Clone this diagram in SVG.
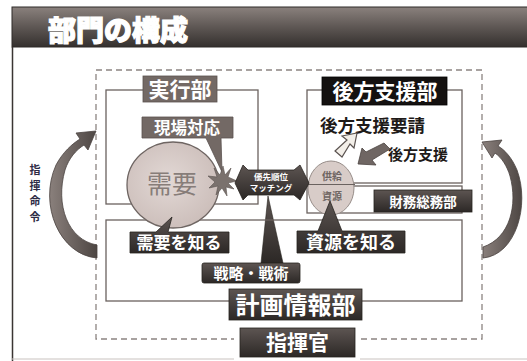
<svg xmlns="http://www.w3.org/2000/svg" width="527" height="361" viewBox="0 0 527 361">
<defs>
<linearGradient id="gTitle" x1="0" y1="0" x2="0" y2="1">
<stop offset="0" stop-color="#8a817d"/><stop offset="0.5" stop-color="#5e5754"/><stop offset="1" stop-color="#34302e"/>
</linearGradient>
<linearGradient id="gDark" x1="0" y1="0" x2="0" y2="1">
<stop offset="0" stop-color="#5d5552"/><stop offset="1" stop-color="#2c2826"/>
</linearGradient>
<linearGradient id="gArrow" x1="0" y1="0" x2="1" y2="0">
<stop offset="0" stop-color="#8a807c"/><stop offset="1" stop-color="#4d4643"/>
</linearGradient>
<radialGradient id="gCircle" cx="0.45" cy="0.45" r="0.6">
<stop offset="0" stop-color="#e2d8d5"/><stop offset="1" stop-color="#cbbdb9"/>
</radialGradient>
<style>
.frame{fill:none;stroke:#6a625f;stroke-width:1.3}
.dash{fill:none;stroke:#8c8481;stroke-width:1.3;stroke-dasharray:6,4}
.dark{fill:url(#gDark);stroke:#27231f;stroke-width:0.8}
.mid{fill:#736965;stroke:#5a524f;stroke-width:0.8}
.wt{fill:#ffffff;font-family:"Noto Sans CJK JP","Noto Sans CJK SC",sans-serif;font-weight:bold;text-anchor:middle}
.bt{fill:#1e1a18;font-family:"Noto Sans CJK JP","Noto Sans CJK SC",sans-serif;font-weight:bold}
.vt{fill:#2e2b45;font-family:"Noto Sans CJK JP",sans-serif;font-weight:bold;text-anchor:middle;font-size:11px}
.curve{fill:url(#gArrow);stroke:#4a4340;stroke-width:0.8}
</style>
</defs>
<rect width="527" height="361" fill="#ffffff"/>
<g id="title">
<rect x="12" y="7" width="520" height="40" fill="url(#gTitle)" stroke="#2f2b29" stroke-width="1"/>
<text x="48" y="41" font-size="28" fill="#ffffff" stroke="#ffffff" stroke-width="1.2" font-family="'Noto Sans CJK JP','Noto Sans CJK SC',sans-serif" font-weight="900">部門の構成</text>
</g>
<line x1="12.5" y1="47" x2="12.5" y2="361" stroke="#3a3533" stroke-width="1.5"/>
<line x1="12" y1="359" x2="527" y2="359" stroke="#c9c2bf" stroke-width="1"/>
<g id="dashed-area">
<rect class="dash" x="96" y="70" width="386" height="269"/>
</g>
<g id="connectors">
<path class="curve" d="M97,258 C60,255 38,205 56,165 C63,152 72,144 80,139 L76,133 L96,131 L88,150 L84,145 C76,150 69,158 65,170 C55,205 68,240 97,245 Z"/>
<path class="curve" d="M483,258 C516,255 530,205 517,170 C512,158 505,150 498,146 L502,140 L482,142 L492,158 L495,153 C502,158 507,166 510,176 C518,205 510,238 483,247 Z"/>
<path d="M268,196 L261,263 L283,263 Z" fill="url(#gDark)" stroke="#27231f" stroke-width="0.6"/>
</g>
<g id="jikko">
<rect class="frame" x="106" y="90" width="152" height="114"/>
<rect class="mid" x="143" y="76" width="74" height="26"/>
<text class="wt" x="180" y="97" font-size="21">実行部</text>
</g>
<g id="keikaku">
<rect class="frame" x="106" y="220" width="356" height="81"/>
</g>
<g id="zaimu">
<rect class="frame" x="307" y="186" width="155" height="27"/>
<rect class="dark" x="374" y="190" width="98" height="22"/>
<text class="wt" x="423" y="207" font-size="13.5">財務総務部</text>
</g>
<g id="juyo">
<ellipse cx="173" cy="185" rx="46" ry="43" fill="url(#gCircle)" stroke="#6e6562" stroke-width="1.3"/>
<text x="172" y="193" font-size="25" fill="#877d79" text-anchor="middle" font-family="'Noto Sans CJK JP','Noto Sans CJK SC',sans-serif">需要</text>
</g>
<g id="koho">
<rect class="frame" x="307" y="90" width="155" height="93"/>
<rect x="322" y="77" width="125" height="28" fill="#141110" stroke="#000" stroke-width="0.8"/>
<text class="wt" x="385" y="99" font-size="21">後方支援部</text>
<text class="bt" x="320" y="132" font-size="17.5">後方支援要請</text>
<text class="bt" x="388" y="160" font-size="15">後方支援</text>
<path d="M342,157 L335,151 L347,140 L342,136 L357,133 L354,148 L350,144 Z" fill="#f3efe9" stroke="#5a524f" stroke-width="1.2"/>
<path d="M384,143 L390,149 L372,160 L376,165 L358,164 L362,148 L366,152 Z" fill="#6f6663" stroke="#4a4340" stroke-width="0.8"/>
</g>
<g id="kyokyu">
<ellipse cx="331" cy="188" rx="23" ry="27" fill="#d8ccc8" stroke="#978d89" stroke-width="1"/>
<line x1="307" y1="184.5" x2="355" y2="184.5" stroke="#6a625f" stroke-width="1"/>
<text x="332" y="180" font-size="10" fill="#6e6562" text-anchor="middle" font-family="'Noto Sans CJK JP',sans-serif" font-weight="bold">供給</text>
<text x="332" y="200" font-size="10" fill="#6e6562" text-anchor="middle" font-family="'Noto Sans CJK JP',sans-serif" font-weight="bold">資源</text>
</g>
<g id="genba">
<path class="mid" d="M142,117 H233 V138 H221 L222,172 L206,138 H142 Z"/>
<text class="wt" x="187" y="134" font-size="16.5">現場対応</text>
</g>
<g id="burst">
<polygon points="237,181 228,183 234,189 226,187 227,196 222,188 216,195 218,186 209,188 215,182 208,176 217,177 214,168 220,175 223,166 225,175 231,168 228,177" fill="#7a716d" stroke="#5a524f" stroke-width="0.6"/>
</g>
<g id="matching">
<polygon points="235,183 243,165 248,170 294,170 300,165 309,183 300,200 294,195 248,195 243,200" class="dark"/>
<text class="wt" x="271" y="180" font-size="8.5">優先順位</text>
<text class="wt" x="271" y="191" font-size="8.5">マッチング</text>
</g>
<g id="juyo-shiru">
<path class="dark" d="M130,232 H156 L172,217 L168,232 H229 V253 H130 Z"/>
<text class="wt" x="179" y="249" font-size="17">需要を知る</text>
</g>
<g id="shigen-shiru">
<path class="dark" d="M297,231 H318 L330,201 L342,231 H405 V253 H297 Z"/>
<text class="wt" x="351" y="249" font-size="18">資源を知る</text>
</g>
<g id="senryaku">
<rect class="dark" x="202" y="263" width="98" height="20" rx="2"/>
<text class="wt" x="251" y="278.5" font-size="15">戦略・戦術</text>
</g>
<g id="keikaku-label">
<rect class="dark" x="229" y="289" width="133" height="31"/>
<text class="wt" x="295.5" y="314" font-size="24" font-weight="normal">計画情報部</text>
</g>
<g id="shikikan">
<rect x="234" y="326" width="126" height="35" fill="#ffffff"/>
<rect class="dark" x="240" y="328" width="115" height="29"/>
<text class="wt" x="297.5" y="350" font-size="21" font-weight="normal">指揮官</text>
</g>
<g id="shiki-meirei">
<text class="vt" x="35" y="174">指</text>
<text class="vt" x="35" y="189.5">揮</text>
<text class="vt" x="35" y="205">命</text>
<text class="vt" x="35" y="220.5">令</text>
</g>
</svg>
